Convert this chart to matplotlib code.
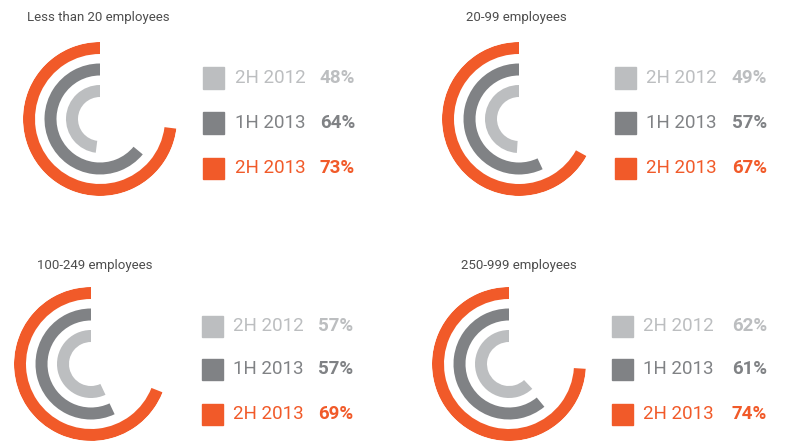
import numpy as np
import matplotlib
matplotlib.use('Agg')
import matplotlib.pyplot as plt
from matplotlib import font_manager
from matplotlib.patches import Rectangle

# Data
groups = ['Less than 20 employees', '20-99 employees', '100-249 employees', '250-999 employees']
periods = ['2H 2012', '1H 2013', '2H 2013']
share_2h2012 = [48, 49, 57, 62]
share_1h2013 = [64, 57, 57, 61]
share_2h2013 = [73, 67, 69, 74]

colors = ['#BCBEC0', '#808285', '#F15A29']
title_color = '#4D4D4D'

installed = {f.name for f in font_manager.fontManager.ttflist}
family = 'Liberation Sans Narrow' if 'Liberation Sans Narrow' in installed else 'Roboto'
plt.rcParams['font.family'] = [family, 'DejaVu Sans']

W, H = 788, 442
fig = plt.figure(figsize = (W / 100, H / 100), dpi = 100)

def fx(x):
    return x / W

def fy(y):
    return 1 - y / H

# Layout in pixels
centers = [(100, 119), (519, 119), (91, 364), (509, 364)]
titles_xy = [(27, 17), (466, 17), (37, 265), (461, 265)]
# square left, label left, percent right edge
legend_x = [(203, 235, 355), (615, 646, 767), (202, 233, 353), (612, 643, 767)]
legend_rows = [(78, 123, 168), (78, 123, 168), (326, 369, 414), (326, 369, 414)]

R = 77          # outer radius of orange ring (px)
ring_w = 12     # ring width (px)
outer_radii = [34, 55.5, 77]

for i, group in enumerate(groups):
    values = [share_2h2012[i], share_1h2013[i], share_2h2013[i]]
    cx, cy = centers[i]

    ax = fig.add_axes([fx(cx - R), fy(cy + R), 2 * R / W, 2 * R / H], projection = 'polar')
    ax.set_theta_zero_location('N')
    ax.set_theta_direction(1)
    ax.set_ylim(0, R)
    ax.axis('off')

    for v, r_out, c in zip(values, outer_radii, colors):
        ax.bar(x = 0, height = ring_w, width = v / 100 * 2 * np.pi, bottom = r_out - ring_w,
               align = 'edge', color = c, edgecolor = 'none')

    # Title
    tx, ty = titles_xy[i]
    fig.text(fx(tx), fy(ty), group, fontsize = 9.5, color = title_color, ha = 'left', va = 'center')

    # Legend
    sq_x, lab_x, pct_x = legend_x[i]
    for label, v, c, ry in zip(periods, values, colors, legend_rows[i]):
        fig.patches.append(Rectangle((fx(sq_x), fy(ry + 10.5)), 21 / W, 21 / H,
                                     transform = fig.transFigure, color = c))
        fig.text(fx(lab_x), fy(ry), label, fontsize = 13.5, color = c, ha = 'left', va = 'center')
        fig.text(fx(pct_x), fy(ry), f'{v}%', fontsize = 13.5, color = c, ha = 'right', va = 'center',
                 fontweight = 'bold')

fig.savefig('out.png', dpi = 100)
